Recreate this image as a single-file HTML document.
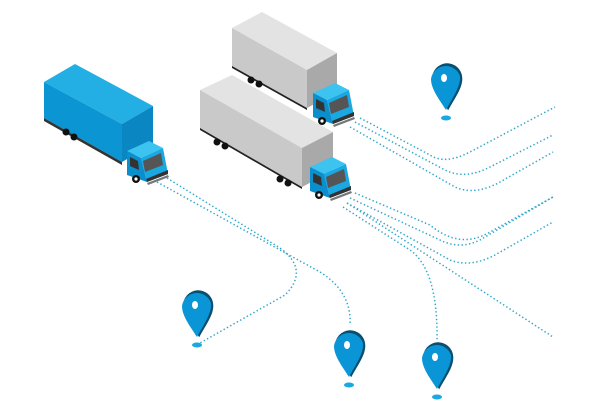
<!DOCTYPE html>
<html><head><meta charset="utf-8"><style>html,body{margin:0;padding:0;background:#fff}svg{display:block}</style></head>
<body>
<svg width="600" height="400" viewBox="0 0 600 400" xmlns="http://www.w3.org/2000/svg">
<defs>
<g id="cab">
  <polygon points="0,3 22,-7 36,0 14,10" fill="#3cc3f0"/>
  <polygon points="14,10 36,0 41,26 20,34" fill="#1aa8e2"/>
  <polygon points="0,3 14,10 20,34 0,27" fill="#0b8fcc"/>
  <polygon points="16,13 34,5 36,17 18,24" fill="#555"/>
  <polygon points="3,9 11,13 12,22 3,18" fill="#333"/>
  <polygon points="19,31 41,22 41,26 20,34" fill="#333"/>
  <polygon points="20,35 41,27 42,29 21,37" fill="#777"/>
  <circle cx="9" cy="31" r="4" fill="#111"/><circle cx="9" cy="31" r="1.6" fill="#fff"/>
</g>
<g id="pin">
  <path d="M-15,0 A15,15 0 0 1 15,-2 C16,8 8,18 1,31 C-6,20 -15,10 -15,0 Z" fill="#0a4e70" transform="translate(1.2,0.3)"/>
  <path d="M-15,0 A15,15 0 0 1 14,-3 C15,7 7,18 0,31 C-7,20 -15,10 -15,0 Z" fill="#0a95d6"/>
  <ellipse cx="-2" cy="-1" rx="3" ry="4" fill="#fff"/>
  <ellipse cx="0" cy="39" rx="5" ry="2.5" fill="#1aa8e2"/>
</g>
</defs>
<g fill="none" stroke="#2fa7cc" stroke-width="1.5" stroke-dasharray="1.4 2.4">
  <path d="M167,178 L280,248 Q310,270 285,295 L200,343"/>
  <path d="M157,182 L320,272 Q352,292 350,325"/>
  <path d="M343,207 L410,250 Q438,270 437,340"/>
  <path d="M347,203 L553,337"/>
  <path d="M350,198 L440,240 Q460,250 480,240 L553,197"/>
  <path d="M355,193 L430,225 Q460,250 490,232 L553,197"/>
  <path d="M347,203 L450,260 Q470,268 495,255 L553,222"/>
  <path d="M360,118 L430,155 Q445,165 470,152 L555,107"/>
  <path d="M355,122 L445,170 Q465,180 490,167 L553,135"/>
  <path d="M350,127 L455,187 Q475,196 500,182 L553,152"/>
</g>
<!-- blue truck -->
<polygon points="44,82 75,64 153,106 122,124" fill="#23aee4"/>
<polygon points="44,82 122,124 122,162 44,118" fill="#0b95d3"/>
<polygon points="122,124 153,106 153,144 122,162" fill="#0a86c2"/>
<polygon points="44,118 122,162 122,165 44,121" fill="#333"/>
<circle cx="66" cy="132" r="3.5" fill="#111"/><circle cx="74" cy="137" r="3.5" fill="#111"/>
<use href="#cab" transform="translate(127,148)"/>
<!-- gray truck 1 -->
<polygon points="232,28 262,12 337,53 307,70" fill="#e3e3e3"/>
<polygon points="232,28 307,70 307,108 232,66" fill="#c9c9c9"/>
<polygon points="307,70 337,53 337,92 307,108" fill="#a9a9a9"/>
<polygon points="232,66 307,108 307,110 232,68" fill="#222"/>
<circle cx="251" cy="80" r="3.5" fill="#111"/><circle cx="259" cy="84" r="3.5" fill="#111"/>
<use href="#cab" transform="translate(313,90)"/>
<!-- gray truck 2 -->
<polygon points="200,90 232,75 333,132 302,148" fill="#e3e3e3"/>
<polygon points="200,90 302,148 302,187 200,128" fill="#c9c9c9"/>
<polygon points="302,148 333,132 333,171 302,187" fill="#a9a9a9"/>
<polygon points="200,128 302,187 302,189 200,130" fill="#222"/>
<circle cx="217" cy="142" r="3.5" fill="#111"/><circle cx="225" cy="146" r="3.5" fill="#111"/>
<circle cx="280" cy="179" r="3.5" fill="#111"/><circle cx="288" cy="183" r="3.5" fill="#111"/>
<use href="#cab" transform="translate(310,164)"/>
<!-- pins -->
<use href="#pin" transform="translate(446,79)"/>
<use href="#pin" transform="translate(197,306)"/>
<use href="#pin" transform="translate(349,346)"/>
<use href="#pin" transform="translate(437,358)"/>
</svg>
</body></html>
